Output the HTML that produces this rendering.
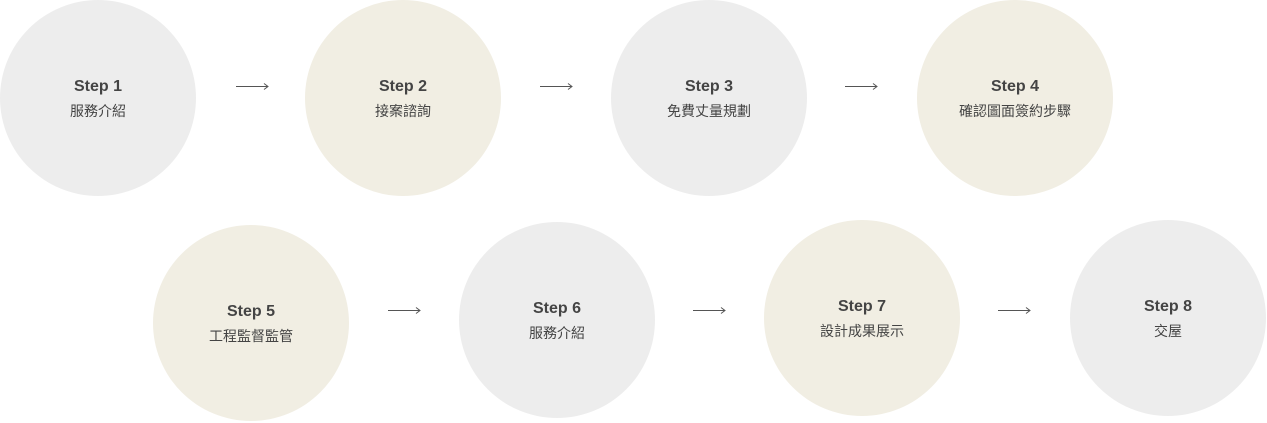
<!DOCTYPE html>
<html><head><meta charset="utf-8"><style>
body{margin:0;width:1267px;height:423px;background:#fff;position:relative;overflow:hidden;font-family:"Liberation Sans","Noto Sans CJK TC",sans-serif;color:#444}
.c{position:absolute;width:196px;height:196px;border-radius:50%;display:flex;flex-direction:column;align-items:center;justify-content:center;text-align:center}
.g{background:#ededed}.b{background:#f1eee3}
.s{font-size:16px;font-weight:bold;line-height:26px}
.t{font-size:14px;line-height:22px}
.a{position:absolute;width:34px;height:10px}
</style></head><body>
<div class="c g" style="left:0;top:0"><div class="s">Step 1</div><div class="t">服務介紹</div></div>
<div class="c b" style="left:305;top:0;left:305px"><div class="s">Step 2</div><div class="t">接案諮詢</div></div>
<div class="c g" style="left:611px;top:0"><div class="s">Step 3</div><div class="t">免費丈量規劃</div></div>
<div class="c b" style="left:917px;top:0"><div class="s">Step 4</div><div class="t">確認圖面簽約步驟</div></div>
<div class="c b" style="left:153px;top:225px"><div class="s">Step 5</div><div class="t">工程監督監管</div></div>
<div class="c g" style="left:459px;top:222px"><div class="s">Step 6</div><div class="t">服務介紹</div></div>
<div class="c b" style="left:764px;top:220px"><div class="s">Step 7</div><div class="t">設計成果展示</div></div>
<div class="c g" style="left:1070px;top:220px"><div class="s">Step 8</div><div class="t">交屋</div></div>
<svg width="1267" height="423" style="position:absolute;left:0;top:0" fill="none" stroke="#555" stroke-width="1">
<g id="ar"><path d="M236 86.5H268M264 83.5L268 86.5L264 89.5"/></g>
<use href="#ar" x="304"/><use href="#ar" x="609"/>
<use href="#ar" x="152" y="224"/><use href="#ar" x="457" y="224"/><use href="#ar" x="762" y="224"/>
</svg>
</body></html>
